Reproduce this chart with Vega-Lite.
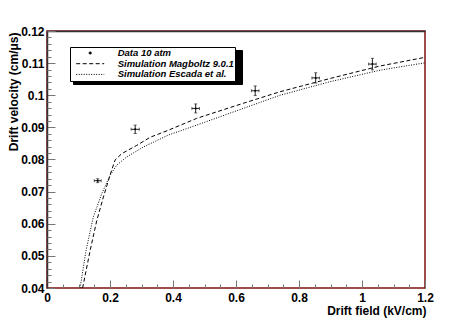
{
  "$schema": "https://vega.github.io/schema/vega-lite/v6.json",
  "width": 378,
  "height": 257,
  "autosize": {"type": "none"},
  "padding": {"left": 47, "top": 31, "right": 48, "bottom": 32},
  "background": "white",
  "config": {
    "font": "Liberation Sans",
    "view": {"stroke": "#7d1010", "strokeWidth": 1.5}
  },
  "datasets": {
    "sim": [
      {"series": "Simulation Magboltz 9.0.1", "E": 0.113, "v": 0.0400},
      {"series": "Simulation Magboltz 9.0.1", "E": 0.137, "v": 0.0517},
      {"series": "Simulation Magboltz 9.0.1", "E": 0.158, "v": 0.0610},
      {"series": "Simulation Magboltz 9.0.1", "E": 0.179, "v": 0.0683},
      {"series": "Simulation Magboltz 9.0.1", "E": 0.200, "v": 0.0751},
      {"series": "Simulation Magboltz 9.0.1", "E": 0.216, "v": 0.0798},
      {"series": "Simulation Magboltz 9.0.1", "E": 0.237, "v": 0.0818},
      {"series": "Simulation Magboltz 9.0.1", "E": 0.285, "v": 0.0844},
      {"series": "Simulation Magboltz 9.0.1", "E": 0.327, "v": 0.0869},
      {"series": "Simulation Magboltz 9.0.1", "E": 0.385, "v": 0.0891},
      {"series": "Simulation Magboltz 9.0.1", "E": 0.475, "v": 0.0928},
      {"series": "Simulation Magboltz 9.0.1", "E": 0.623, "v": 0.0975},
      {"series": "Simulation Magboltz 9.0.1", "E": 0.740, "v": 0.1011},
      {"series": "Simulation Magboltz 9.0.1", "E": 0.898, "v": 0.1052},
      {"series": "Simulation Magboltz 9.0.1", "E": 1.057, "v": 0.1091},
      {"series": "Simulation Magboltz 9.0.1", "E": 1.200, "v": 0.1118},
      {"series": "Simulation Escada et al.", "E": 0.105, "v": 0.0400},
      {"series": "Simulation Escada et al.", "E": 0.124, "v": 0.0517},
      {"series": "Simulation Escada et al.", "E": 0.147, "v": 0.0621},
      {"series": "Simulation Escada et al.", "E": 0.174, "v": 0.0694},
      {"series": "Simulation Escada et al.", "E": 0.200, "v": 0.0750},
      {"series": "Simulation Escada et al.", "E": 0.221, "v": 0.0782},
      {"series": "Simulation Escada et al.", "E": 0.253, "v": 0.0808},
      {"series": "Simulation Escada et al.", "E": 0.306, "v": 0.0839},
      {"series": "Simulation Escada et al.", "E": 0.385, "v": 0.0876},
      {"series": "Simulation Escada et al.", "E": 0.475, "v": 0.0907},
      {"series": "Simulation Escada et al.", "E": 0.623, "v": 0.0959},
      {"series": "Simulation Escada et al.", "E": 0.740, "v": 0.1000},
      {"series": "Simulation Escada et al.", "E": 0.898, "v": 0.1042},
      {"series": "Simulation Escada et al.", "E": 1.057, "v": 0.1078},
      {"series": "Simulation Escada et al.", "E": 1.200, "v": 0.1101}
    ],
    "pts": [
      {"E": 0.161, "v": 0.0734, "Elo": 0.150, "Ehi": 0.172, "vlo": 0.0728, "vhi": 0.0740},
      {"E": 0.280, "v": 0.0894, "Elo": 0.267, "Ehi": 0.293, "vlo": 0.0881, "vhi": 0.0907},
      {"E": 0.472, "v": 0.0959, "Elo": 0.460, "Ehi": 0.484, "vlo": 0.0945, "vhi": 0.0973},
      {"E": 0.661, "v": 0.1014, "Elo": 0.649, "Ehi": 0.673, "vlo": 0.0999, "vhi": 0.1029},
      {"E": 0.853, "v": 0.1054, "Elo": 0.841, "Ehi": 0.865, "vlo": 0.1038, "vhi": 0.1070},
      {"E": 1.033, "v": 0.1097, "Elo": 1.021, "Ehi": 1.045, "vlo": 0.1079, "vhi": 0.1115}
    ]
  },
  "resolve": {"axis": {"x": "independent", "y": "independent"}},
  "layer": [
    {
      "data": {"name": "sim"},
      "mark": {"type": "line", "strokeWidth": 1, "color": "black", "clip": true},
      "encoding": {
        "x": {
          "field": "E", "type": "quantitative",
          "scale": {"domain": [0, 1.2], "nice": false, "zero": false},
          "axis": {
            "orient": "bottom", "values": [0, 0.2, 0.4, 0.6, 0.8, 1, 1.2], "format": ".1~f",
            "tickSize": -8, "tickColor": "#777", "tickWidth": 1, "domain": false, "grid": false,
            "labelFont": "Liberation Sans", "labelFontWeight": "bold", "labelFontSize": 12, "labelColor": "black",
            "labelPadding": 12, "labelFlush": false, "labelOverlap": false,
            "title": "Drift field (kV/cm)", "titleX": 379, "titleY": 26, "titleAlign": "right", "titleBaseline": "alphabetic",
            "titleFont": "Liberation Sans", "titleFontSize": 12, "titleFontWeight": "bold", "titleColor": "black"
          }
        },
        "y": {
          "field": "v", "type": "quantitative",
          "scale": {"domain": [0.04, 0.12], "nice": false, "zero": false},
          "axis": {
            "orient": "left", "values": [0.04, 0.05, 0.06, 0.07, 0.08, 0.09, 0.1, 0.11, 0.12], "format": ".2~f",
            "tickSize": -8, "tickColor": "#777", "tickWidth": 1, "domain": true, "domainColor": "#333", "domainWidth": 1.5, "grid": false,
            "labelFont": "Liberation Sans", "labelFontWeight": "bold", "labelFontSize": 12, "labelColor": "black",
            "labelPadding": 11, "labelFlush": false, "labelOverlap": false,
            "title": "Drift velocity (cm/μs)", "titleAngle": 270, "titleX": -34, "titleY": 1, "titleAlign": "right", "titleBaseline": "middle",
            "titleFont": "Liberation Sans", "titleFontSize": 12, "titleFontWeight": "bold", "titleColor": "black"
          }
        },
        "strokeDash": {
          "field": "series", "type": "nominal",
          "scale": {
            "domain": ["Simulation Magboltz 9.0.1", "Data 10 atm", "Simulation Escada et al."],
            "range": [[4, 2.5], [1, 0], [1, 1.5]]
          },
          "legend": {
            "title": null, "orient": "none", "legendX": 26, "legendY": 19,
            "fillColor": "black", "strokeColor": "black", "padding": 1,
            "symbolType": "stroke", "symbolSize": 27225, "symbolOffset": 0, "symbolOpacity": 0,
            "clipHeight": 10, "rowPadding": 0.7, "labelOffset": 0,
            "labelFontSize": 1, "labelExpr": "''"
          }
        },
        "opacity": {
          "field": "series", "type": "nominal",
          "scale": {
            "domain": ["Data 10 atm", "Simulation Magboltz 9.0.1", "Simulation Escada et al."],
            "range": [1, 1, 1]
          },
          "legend": {
            "title": null, "orient": "none", "legendX": 23, "legendY": 16,
            "fillColor": "white", "strokeColor": "black", "padding": 1,
            "symbolType": "stroke", "symbolSize": 784, "symbolOffset": 4.7, "symbolStrokeColor": "black", "symbolStrokeWidth": 1,
            "clipHeight": 10, "rowPadding": 0.7, "labelOffset": 13,
            "labelFont": "Liberation Sans", "labelFontSize": 9.5, "labelFontWeight": "bold", "labelFontStyle": "italic", "labelColor": "black",
            "labelLimit": 400, "labelExpr": "datum.label + '\u00a0\u00a0\u00a0\u00a0\u00a0\u00a0'",
            "encode": {
              "symbols": {
                "update": {
                  "shape": {"signal": "datum.value === 'Data 10 atm' ? 'circle' : 'stroke'"},
                  "size": {"signal": "datum.value === 'Data 10 atm' ? 5 : 784"},
                  "fill": {"signal": "datum.value === 'Data 10 atm' ? 'black' : 'transparent'"},
                  "stroke": {"value": "black"},
                  "strokeWidth": {"value": 1},
                  "opacity": {"value": 1},
                  "strokeDash": {"signal": "scale('strokeDash', datum.value)"}
                }
              }
            }
          }
        }
      }
    },
    {
      "data": {"name": "pts"},
      "mark": {"type": "rule", "color": "#222", "strokeWidth": 1},
      "encoding": {
        "x": {
          "field": "E", "type": "quantitative",
          "axis": {
            "orient": "bottom", "values": [0.05, 0.1, 0.15, 0.25, 0.3, 0.35, 0.45, 0.5, 0.55, 0.65, 0.7, 0.75, 0.85, 0.9, 0.95, 1.05, 1.1, 1.15],
            "tickSize": -4, "tickColor": "#777", "tickWidth": 1, "labels": false, "domain": false, "grid": false, "title": null
          }
        },
        "y": {
          "field": "vlo", "type": "quantitative",
          "axis": {
            "orient": "left",
            "values": [0.042, 0.044, 0.046, 0.048, 0.052, 0.054, 0.056, 0.058, 0.062, 0.064, 0.066, 0.068, 0.072, 0.074, 0.076, 0.078, 0.082, 0.084, 0.086, 0.088, 0.092, 0.094, 0.096, 0.098, 0.102, 0.104, 0.106, 0.108, 0.112, 0.114, 0.116, 0.118],
            "tickSize": -4, "tickColor": "#777", "tickWidth": 1, "labels": false, "domain": false, "grid": false, "title": null
          }
        },
        "y2": {"field": "vhi"}
      }
    },
    {
      "data": {"name": "pts"},
      "mark": {"type": "rule", "color": "#222", "strokeWidth": 1},
      "encoding": {
        "x": {
          "field": "Elo", "type": "quantitative",
          "axis": {"orient": "top", "ticks": false, "labels": false, "domain": true, "domainColor": "#333", "domainWidth": 1.5, "grid": false, "title": null}
        },
        "x2": {"field": "Ehi"},
        "y": {"field": "v", "type": "quantitative", "axis": null}
      }
    },
    {
      "data": {"name": "pts"},
      "mark": {"type": "tick", "orient": "vertical", "size": 3, "thickness": 1, "color": "#222"},
      "encoding": {
        "x": {"field": "Elo", "type": "quantitative", "axis": null},
        "y": {"field": "v", "type": "quantitative", "axis": null}
      }
    },
    {
      "data": {"name": "pts"},
      "mark": {"type": "tick", "orient": "vertical", "size": 3, "thickness": 1, "color": "#222"},
      "encoding": {
        "x": {"field": "Ehi", "type": "quantitative", "axis": null},
        "y": {"field": "v", "type": "quantitative", "axis": null}
      }
    },
    {
      "data": {"name": "pts"},
      "mark": {"type": "tick", "orient": "horizontal", "size": 3, "thickness": 1, "color": "#222"},
      "encoding": {
        "x": {"field": "E", "type": "quantitative", "axis": null},
        "y": {"field": "vlo", "type": "quantitative", "axis": null}
      }
    },
    {
      "data": {"name": "pts"},
      "mark": {"type": "tick", "orient": "horizontal", "size": 3, "thickness": 1, "color": "#222"},
      "encoding": {
        "x": {"field": "E", "type": "quantitative", "axis": null},
        "y": {"field": "vhi", "type": "quantitative", "axis": null}
      }
    },
    {
      "data": {"name": "pts"},
      "mark": {"type": "point", "filled": true, "size": 4, "color": "black", "opacity": 1},
      "encoding": {
        "x": {"field": "E", "type": "quantitative", "axis": null},
        "y": {"field": "v", "type": "quantitative", "axis": null}
      }
    }
  ]
}
